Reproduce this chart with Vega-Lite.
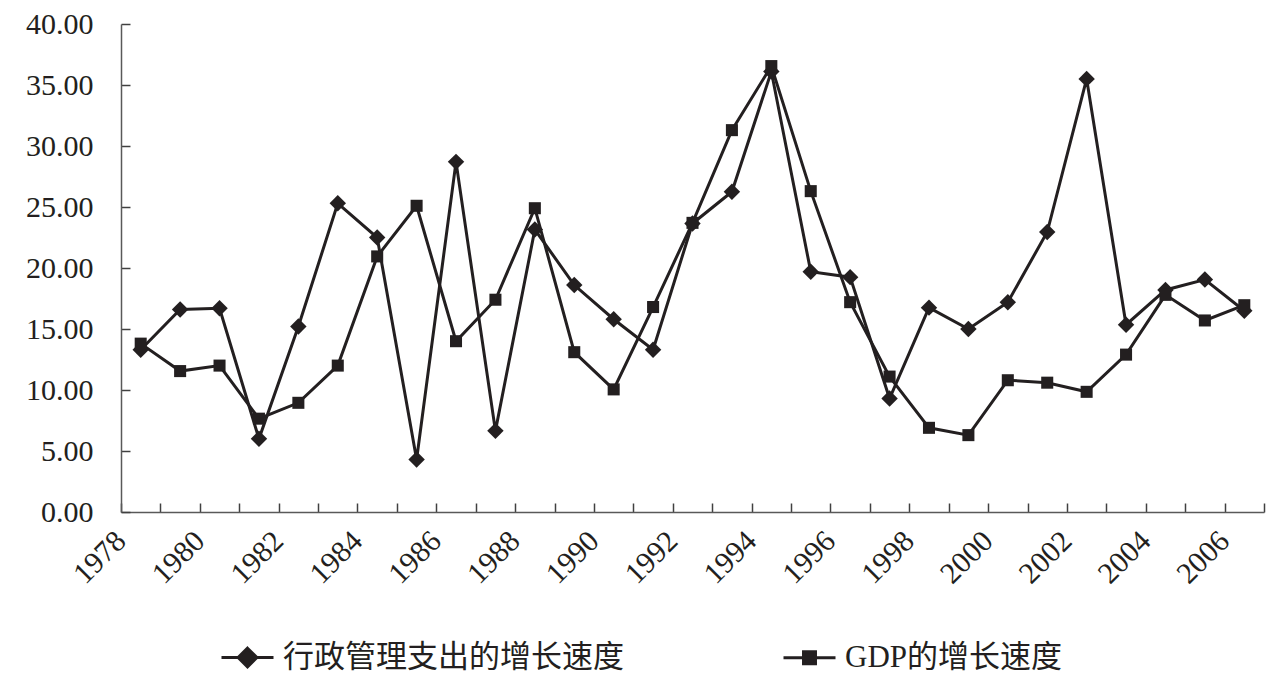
{
  "$schema": "https://vega.github.io/schema/vega-lite/v6.json",
  "width": 1143,
  "height": 488,
  "autosize": {"type": "none"},
  "padding": {"left": 121, "top": 24, "right": 22, "bottom": 183},
  "background": "white",
  "config": {
    "view": {"stroke": null},
    "font": "Liberation Serif"
  },
  "data": {
    "values": [
      {"year": 1978, "series": "行政管理支出的增长速度", "value": 13.3},
      {"year": 1979, "series": "行政管理支出的增长速度", "value": 16.6},
      {"year": 1980, "series": "行政管理支出的增长速度", "value": 16.7},
      {"year": 1981, "series": "行政管理支出的增长速度", "value": 6.0},
      {"year": 1982, "series": "行政管理支出的增长速度", "value": 15.2},
      {"year": 1983, "series": "行政管理支出的增长速度", "value": 25.3},
      {"year": 1984, "series": "行政管理支出的增长速度", "value": 22.5},
      {"year": 1985, "series": "行政管理支出的增长速度", "value": 4.3},
      {"year": 1986, "series": "行政管理支出的增长速度", "value": 28.7},
      {"year": 1987, "series": "行政管理支出的增长速度", "value": 6.65},
      {"year": 1988, "series": "行政管理支出的增长速度", "value": 23.15},
      {"year": 1989, "series": "行政管理支出的增长速度", "value": 18.6},
      {"year": 1990, "series": "行政管理支出的增长速度", "value": 15.8},
      {"year": 1991, "series": "行政管理支出的增长速度", "value": 13.3},
      {"year": 1992, "series": "行政管理支出的增长速度", "value": 23.65},
      {"year": 1993, "series": "行政管理支出的增长速度", "value": 26.25},
      {"year": 1994, "series": "行政管理支出的增长速度", "value": 36.1},
      {"year": 1995, "series": "行政管理支出的增长速度", "value": 19.7},
      {"year": 1996, "series": "行政管理支出的增长速度", "value": 19.25},
      {"year": 1997, "series": "行政管理支出的增长速度", "value": 9.3},
      {"year": 1998, "series": "行政管理支出的增长速度", "value": 16.75},
      {"year": 1999, "series": "行政管理支出的增长速度", "value": 15.0},
      {"year": 2000, "series": "行政管理支出的增长速度", "value": 17.2},
      {"year": 2001, "series": "行政管理支出的增长速度", "value": 22.95},
      {"year": 2002, "series": "行政管理支出的增长速度", "value": 35.5},
      {"year": 2003, "series": "行政管理支出的增长速度", "value": 15.35},
      {"year": 2004, "series": "行政管理支出的增长速度", "value": 18.2},
      {"year": 2005, "series": "行政管理支出的增长速度", "value": 19.05},
      {"year": 2006, "series": "行政管理支出的增长速度", "value": 16.5},
      {"year": 1978, "series": "GDP的增长速度", "value": 13.8},
      {"year": 1979, "series": "GDP的增长速度", "value": 11.55},
      {"year": 1980, "series": "GDP的增长速度", "value": 12.0},
      {"year": 1981, "series": "GDP的增长速度", "value": 7.65},
      {"year": 1982, "series": "GDP的增长速度", "value": 8.95},
      {"year": 1983, "series": "GDP的增长速度", "value": 12.0},
      {"year": 1984, "series": "GDP的增长速度", "value": 20.95},
      {"year": 1985, "series": "GDP的增长速度", "value": 25.1},
      {"year": 1986, "series": "GDP的增长速度", "value": 14.0},
      {"year": 1987, "series": "GDP的增长速度", "value": 17.4},
      {"year": 1988, "series": "GDP的增长速度", "value": 24.9},
      {"year": 1989, "series": "GDP的增长速度", "value": 13.1},
      {"year": 1990, "series": "GDP的增长速度", "value": 10.05},
      {"year": 1991, "series": "GDP的增长速度", "value": 16.8},
      {"year": 1992, "series": "GDP的增长速度", "value": 23.7},
      {"year": 1993, "series": "GDP的增长速度", "value": 31.3},
      {"year": 1994, "series": "GDP的增长速度", "value": 36.55},
      {"year": 1995, "series": "GDP的增长速度", "value": 26.3},
      {"year": 1996, "series": "GDP的增长速度", "value": 17.2},
      {"year": 1997, "series": "GDP的增长速度", "value": 11.1},
      {"year": 1998, "series": "GDP的增长速度", "value": 6.9},
      {"year": 1999, "series": "GDP的增长速度", "value": 6.3},
      {"year": 2000, "series": "GDP的增长速度", "value": 10.8},
      {"year": 2001, "series": "GDP的增长速度", "value": 10.6},
      {"year": 2002, "series": "GDP的增长速度", "value": 9.85},
      {"year": 2003, "series": "GDP的增长速度", "value": 12.9},
      {"year": 2004, "series": "GDP的增长速度", "value": 17.8},
      {"year": 2005, "series": "GDP的增长速度", "value": 15.7},
      {"year": 2006, "series": "GDP的增长速度", "value": 16.95}
    ]
  },
  "encoding": {
    "x": {
      "field": "year",
      "type": "ordinal",
      "scale": {"type": "band", "paddingInner": 0, "paddingOuter": 0},
      "axis": {
        "title": null,
        "tickBand": "extent",
        "tickSize": -9,
        "tickColor": "#404040",
        "tickWidth": 1.5,
        "domainColor": "#595959",
        "domainWidth": 1.5,
        "labelAngle": -45,
        "labelAlign": "right",
        "labelBaseline": "middle",
        "labelFont": "Liberation Serif",
        "labelFontSize": 30,
        "labelColor": "#231f20",
        "labelPadding": 33,
        "labelOffset": -20,
        "labelExpr": "datum.value % 2 == 0 ? datum.label : ''"
      }
    },
    "y": {
      "field": "value",
      "type": "quantitative",
      "scale": {"domain": [0, 40], "nice": false},
      "axis": {
        "title": null,
        "values": [0, 5, 10, 15, 20, 25, 30, 35, 40],
        "format": ".2f",
        "grid": false,
        "tickSize": -9,
        "tickColor": "#404040",
        "tickWidth": 1.5,
        "domainColor": "#595959",
        "domainWidth": 1.5,
        "labelFont": "Liberation Serif",
        "labelFontSize": 30,
        "labelColor": "#231f20",
        "labelPadding": 37
      }
    }
  },
  "layer": [
    {
      "mark": {"type": "line", "strokeWidth": 3},
      "encoding": {
        "color": {
          "field": "series",
          "type": "nominal",
          "scale": {"domain": ["行政管理支出的增长速度", "GDP的增长速度"], "range": ["#231f20", "#231f20"]},
          "legend": {
            "title": null,
            "orient": "none",
            "direction": "horizontal",
            "columns": 2,
            "legendX": 99,
            "legendY": 606,
            "columnPadding": 153,
            "symbolSize": 2704,
            "symbolStrokeWidth": 3,
            "labelFont": "Liberation Serif, Noto Sans CJK SC",
            "labelFontSize": 31,
            "labelColor": "#231f20",
            "labelOffset": 8,
            "labelLimit": 600,
            "encode": {
              "symbols": {
                "update": {
                  "shape": {"signal": "datum.value == '行政管理支出的增长速度' ? 'M-1,0H1M0,-0.36L0.36,0L0,0.36L-0.36,0Z' : 'M-1,0H1M-0.23,-0.23H0.23V0.23H-0.23Z'"},
                  "fill": {"value": "#231f20"},
                  "stroke": {"value": "#231f20"},
                  "strokeWidth": {"value": 3},
                  "opacity": {"value": 1}
                }
              }
            }
          }
        }
      }
    },
    {
      "transform": [{"filter": "datum.series == '行政管理支出的增长速度'"}],
      "mark": {"type": "point", "filled": true, "opacity": 1, "color": "#231f20", "shape": "diamond", "size": 270}
    },
    {
      "transform": [{"filter": "datum.series == 'GDP的增长速度'"}],
      "mark": {"type": "point", "filled": true, "opacity": 1, "color": "#231f20", "shape": "square", "size": 145}
    }
  ]
}
